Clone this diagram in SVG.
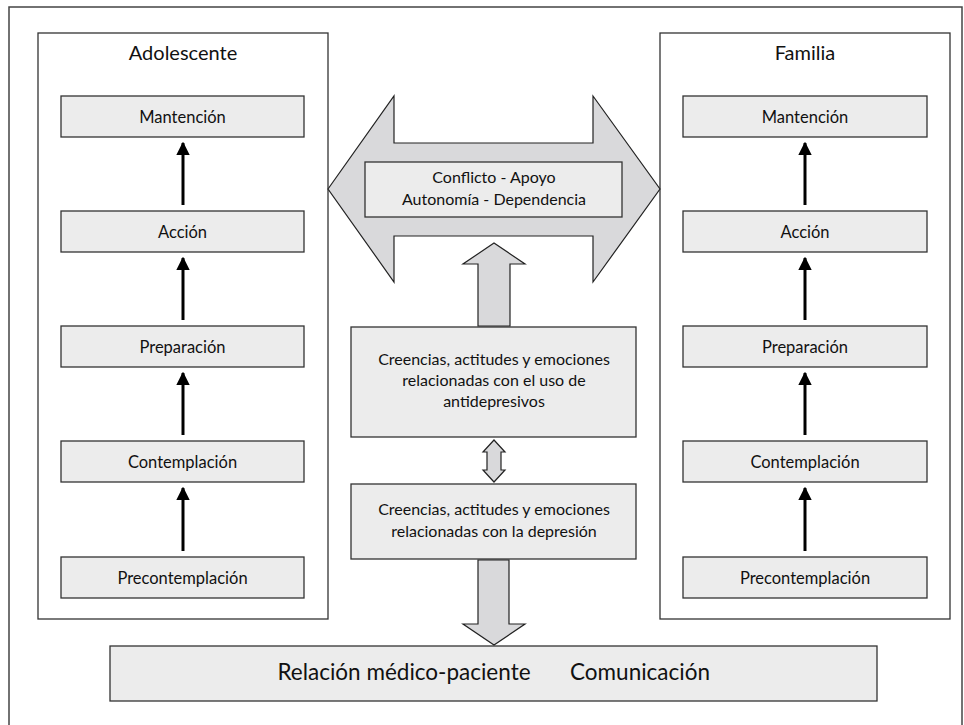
<svg xmlns="http://www.w3.org/2000/svg" width="964" height="725" viewBox="0 0 964 725">
<defs>
<style>
.frame{fill:none;stroke:#444;stroke-width:1.5}
.panel{fill:#fff;stroke:#333;stroke-width:1.3}
.box{fill:#ececec;stroke:#333;stroke-width:1.3}
.big{fill:#d9d9db;stroke:#222;stroke-width:1.2;stroke-linejoin:miter}
.t{font-family:Lato,"Liberation Sans",sans-serif;fill:#111;text-anchor:middle}
.s{font-size:16.5px}
.m{font-size:16px}
.h{font-size:20px}
.l{font-size:22.5px}
.conn{stroke:#000;stroke-width:3;fill:none}
</style>
<marker id="ah" viewBox="0 0 10 10" refX="9" refY="5" markerWidth="4.6" markerHeight="4.6" markerUnits="strokeWidth" orient="auto">
<path d="M0,0 L10,5 L0,10 Z" fill="#000"/>
</marker>
</defs>
<rect class="frame" x="9" y="7" width="953" height="730"/>

<g id="adolescente">
<rect class="panel" x="38" y="33" width="290" height="586"/>
<text class="t h" x="183" y="60">Adolescente</text>
</g>
<g id="familia">
<rect class="panel" x="660" y="33" width="290" height="586"/>
<text class="t h" x="805" y="60">Familia</text>
</g>

<g id="a-mantencion"><rect class="box" x="61" y="96" width="243" height="41"/><text class="t s" x="182.5" y="123">Mantención</text></g>
<g id="a-accion"><rect class="box" x="61" y="211" width="243" height="41"/><text class="t s" x="182.5" y="238">Acción</text></g>
<g id="a-preparacion"><rect class="box" x="61" y="326" width="243" height="41"/><text class="t s" x="182.5" y="353">Preparación</text></g>
<g id="a-contemplacion"><rect class="box" x="61" y="441" width="243" height="41"/><text class="t s" x="182.5" y="468">Contemplación</text></g>
<g id="a-precontemplacion"><rect class="box" x="61" y="557" width="243" height="41"/><text class="t s" x="182.5" y="584">Precontemplación</text></g>

<g id="f-mantencion"><rect class="box" x="683" y="96" width="244" height="41"/><text class="t s" x="805" y="123">Mantención</text></g>
<g id="f-accion"><rect class="box" x="683" y="211" width="244" height="41"/><text class="t s" x="805" y="238">Acción</text></g>
<g id="f-preparacion"><rect class="box" x="683" y="326" width="244" height="41"/><text class="t s" x="805" y="353">Preparación</text></g>
<g id="f-contemplacion"><rect class="box" x="683" y="441" width="244" height="41"/><text class="t s" x="805" y="468">Contemplación</text></g>
<g id="f-precontemplacion"><rect class="box" x="683" y="557" width="244" height="41"/><text class="t s" x="805" y="584">Precontemplación</text></g>

<g id="interaccion">
<path class="big" d="M328,189 L394,96 L394,143 L593,143 L593,96 L660,189 L593,282 L593,236 L394,236 L394,282 Z"/>
<rect class="box" x="365" y="162" width="257" height="55"/>
<text class="t m" x="494" y="183">Conflicto - Apoyo</text>
<text class="t m" x="494" y="205">Autonomía - Dependencia</text>
</g>

<g id="antidepresivos">
<rect class="box" x="351" y="327" width="285" height="110"/>
<text class="t m" x="494" y="365">Creencias, actitudes y emociones</text>
<text class="t m" x="494" y="386">relacionadas con el uso de</text>
<text class="t m" x="494" y="407">antidepresivos</text>
</g>

<g id="depresion">
<rect class="box" x="351" y="484" width="285" height="75"/>
<text class="t m" x="494" y="515">Creencias, actitudes y emociones</text>
<text class="t m" x="494" y="537">relacionadas con la depresión</text>
</g>

<g id="relacion">
<rect class="box" x="110" y="646" width="767" height="55"/>
<text class="t l" x="404" y="680">Relación médico-paciente</text>
<text class="t l" x="640" y="680">Comunicación</text>
</g>

<g id="connectors">
<line class="conn" x1="183" y1="205" x2="183" y2="143" marker-end="url(#ah)"/>
<line class="conn" x1="183" y1="320" x2="183" y2="258" marker-end="url(#ah)"/>
<line class="conn" x1="183" y1="435" x2="183" y2="373" marker-end="url(#ah)"/>
<line class="conn" x1="183" y1="551" x2="183" y2="488" marker-end="url(#ah)"/>
<line class="conn" x1="805" y1="205" x2="805" y2="143" marker-end="url(#ah)"/>
<line class="conn" x1="805" y1="320" x2="805" y2="258" marker-end="url(#ah)"/>
<line class="conn" x1="805" y1="435" x2="805" y2="373" marker-end="url(#ah)"/>
<line class="conn" x1="805" y1="551" x2="805" y2="488" marker-end="url(#ah)"/>
<path class="big" d="M478,326 L478,264 L463,264 L494,243 L525,264 L510,264 L510,326 Z"/>
<path class="big" d="M494,440 L505,452 L501,452 L501,470 L505,470 L494,482 L483,470 L487,470 L487,452 L483,452 Z"/>
<path class="big" d="M478,560 L509,560 L509,624 L525,624 L494,645 L463,624 L478,624 Z"/>
</g>
</svg>
